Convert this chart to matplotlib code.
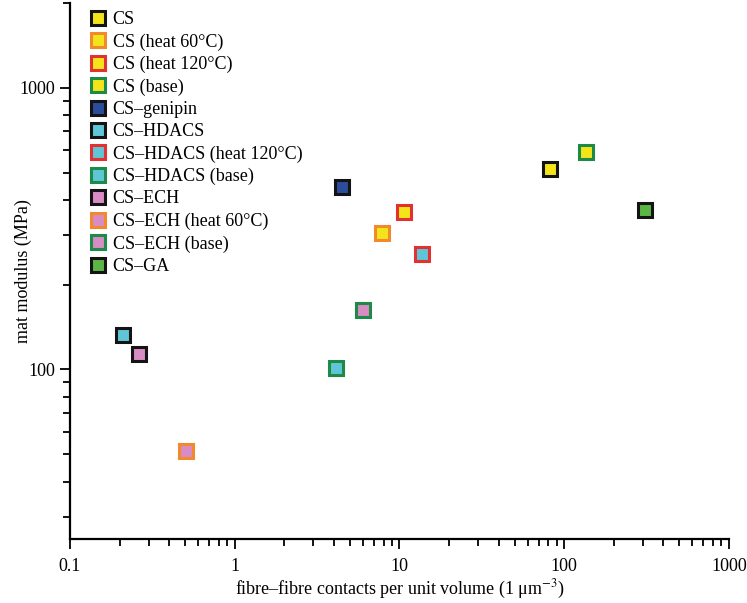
import matplotlib
matplotlib.use("Agg")
import matplotlib.pyplot as plt
from matplotlib.ticker import LogLocator, FuncFormatter, NullFormatter

plt.rcParams['font.family'] = ['Liberation Serif', 'DejaVu Serif']
plt.rcParams['mathtext.fontset'] = 'stix'
plt.rcParams['font.size'] = 13

# series, in legend order
labels = ['CS', 'CS (heat 60°C)', 'CS (heat 120°C)', 'CS (base)', 'CS–genipin',
          'CS–HDACS', 'CS–HDACS (heat 120°C)', 'CS–HDACS (base)', 'CS–ECH',
          'CS–ECH (heat 60°C)', 'CS–ECH (base)', 'CS–GA']
contacts = [82, 7.8, 10.6, 135, 4.5, 0.21, 13.6, 4.14, 0.264, 0.507, 6.0, 308]
modulus = [513, 306, 361, 593, 446, 133, 256, 101, 113, 51.5, 162, 368]

# marker fill and edge colours
yellow, blue, cyan, pink, green = '#f4e41a', '#2c4c9c', '#5ec6d6', '#d98bc3', '#5bb646'
black, orange, red, dgreen = '#141414', '#f08a2c', '#e23131', '#1e8a47'
fills = [yellow, yellow, yellow, yellow, blue, cyan, cyan, cyan, pink, pink, pink, green]
edges = [black, orange, red, dgreen, black, black, red, dgreen, black, orange, dgreen, black]

fig = plt.figure(figsize=(7.47, 6.03), dpi=100)
ax = fig.add_axes([70/747, 1 - 539/603, 659/747, 536/603])

for lab, x, y, fc, ec in zip(labels, contacts, modulus, fills, edges):
    ax.plot([x], [y], linestyle='none', marker='s', markersize=9.5,
            markerfacecolor=fc, markeredgecolor=ec, markeredgewidth=2.2,
            label=lab, zorder=3)

ax.set_xscale('log')
ax.set_yscale('log')
ax.set_xlim(0.1, 1000)
ax.set_ylim(25, 2000)

fmt = FuncFormatter(lambda v, p: '{:g}'.format(v))
ax.xaxis.set_major_locator(LogLocator(base=10, numticks=10))
ax.xaxis.set_major_formatter(fmt)
ax.xaxis.set_minor_locator(LogLocator(base=10, subs=range(2, 10), numticks=20))
ax.xaxis.set_minor_formatter(NullFormatter())
ax.yaxis.set_major_locator(LogLocator(base=10, numticks=10))
ax.yaxis.set_major_formatter(fmt)
ax.yaxis.set_minor_locator(LogLocator(base=10, subs=range(2, 10), numticks=20))
ax.yaxis.set_minor_formatter(NullFormatter())

for s in ['top', 'right']:
    ax.spines[s].set_visible(False)
for s in ['left', 'bottom']:
    ax.spines[s].set_linewidth(1.6)
ax.tick_params(which='major', direction='out', length=7.5, width=1.3, labelsize=13)
ax.tick_params(axis='y', which='major', pad=3)
ax.tick_params(axis='x', which='major', pad=6.5)
ax.tick_params(which='minor', direction='out', length=5, width=1.3)

ax.set_xlabel('fibre–fibre contacts per unit volume (1 μm$^{-3}$)', fontsize=13)
ax.set_ylabel('mat modulus (MPa)', fontsize=13)
ax.xaxis.set_label_coords(0.5, -0.073)
ax.yaxis.set_label_coords(-0.058, 0.5)

ax.legend(loc='upper left', bbox_to_anchor=(0.029, 0.985), frameon=False,
          borderaxespad=0, borderpad=0, handlelength=1.0, handletextpad=0.3,
          labelspacing=0.29, fontsize=13, numpoints=1)

fig.savefig('out.png', dpi=100)
